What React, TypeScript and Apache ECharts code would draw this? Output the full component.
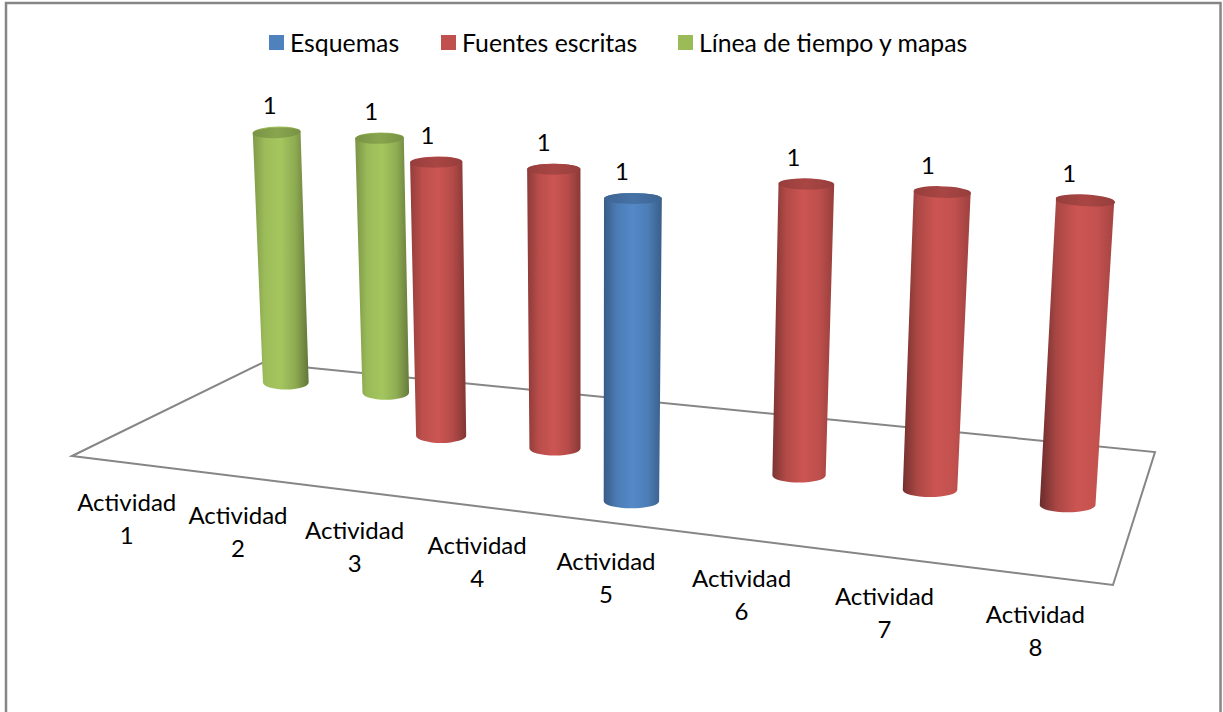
import React, { useEffect, useRef } from "react";
import * as echarts from "echarts";

const categories = ["Actividad\n1", "Actividad\n2", "Actividad\n3", "Actividad\n4", "Actividad\n5", "Actividad\n6", "Actividad\n7", "Actividad\n8"];
const esquemas = [null, null, null, null, 1, null, null, null];
const fuentes = [null, null, 1, 1, null, 1, 1, 1];
const lineaTiempo = [1, 1, null, null, null, null, null, null];

const FONT = "Lato, Carlito, sans-serif";
const W = 1223;
const H = 712;

// Floor plane corners on screen: front-left, front-right, back-right, back-left
const floor = [[72, 456], [1113, 585], [1155, 452], [262, 363]];

function homography(p: number[][]) {
  const [[x0, y0], [x1, y1], [x2, y2], [x3, y3]] = p;
  const dx1 = x1 - x2, dx2 = x3 - x2, sx = x0 - x1 + x2 - x3;
  const dy1 = y1 - y2, dy2 = y3 - y2, sy = y0 - y1 + y2 - y3;
  const den = dx1 * dy2 - dx2 * dy1;
  const g = (sx * dy2 - dx2 * sy) / den;
  const h = (dx1 * sy - sx * dy1) / den;
  const a = x1 - x0 + g * x1, b = x3 - x0 + h * x3;
  const d = y1 - y0 + g * y1, e = y3 - y0 + h * y3;
  return (u: number, v: number) => {
    const w = g * u + h * v + 1;
    return [(a * u + b * v + x0) / w, (d * u + e * v + y0) / w];
  };
}
const project = homography(floor);

function shade(hex: string, k: number) {
  const n = parseInt(hex.slice(1), 16);
  const f = (c: number) => Math.max(0, Math.min(255, Math.round(c * k)));
  return `rgb(${f((n >> 16) & 255)},${f((n >> 8) & 255)},${f(n & 255)})`;
}

function cylinderRenderer(color: string, depth: number) {
  return (params: any, api: any) => {
    const cat = api.value(0);
    const val = api.value(1);
    const p0 = api.coord([cat, 0]);
    const p1 = api.coord([cat, val]);
    const pFull = api.coord([cat, 1]);
    const u = p0[0] / W;
    const frac = (p0[1] - p1[1]) / (p0[1] - pFull[1]);
    const base = project(u, depth);
    const bx = base[0] + 3;
    const by = base[1] + 1;
    const hgt = (0.445 * by + 79.7) * frac;
    const tx = bx + (hgt * (bx - 590)) / 8300;
    const ty = by - hgt;
    const rb = hgt * 0.0915;
    const rt = hgt * 0.0955;
    const rybot = 7;
    const rytop = 5.5;
    const tilt = (bx - 590) * 0.003;
    const rot = (Math.atan2(tilt, rt) * 180) / Math.PI;
    const tl = [tx - rt, ty - tilt];
    const tr = [tx + rt, ty + tilt];
    const bl = [bx - rb, by];
    const br = [bx + rb, by];
    const body = `M${tl[0]} ${tl[1]} L${bl[0]} ${bl[1]} A${rb} ${rybot} 0 0 0 ${br[0]} ${br[1]} L${tr[0]} ${tr[1]} A${rt} ${rytop} ${rot} 0 0 ${tl[0]} ${tl[1]} Z`;
    const cap = `M${tl[0]} ${tl[1]} A${rt} ${rytop} ${rot} 0 1 ${tr[0]} ${tr[1]} A${rt} ${rytop} ${rot} 0 1 ${tl[0]} ${tl[1]} Z`;
    const pos = bx / W;
    const left = 0.92 - 0.42 * pos;
    const right = 0.55 + 0.35 * pos;
    const mix = (a: number) => 0.5 * a + 0.5;
    const grad = new echarts.graphic.LinearGradient(0, 0, 1, 0, [
      { offset: 0, color: shade(color, left) },
      { offset: 0.22, color: shade(color, mix(left) + 0.1) },
      { offset: 0.5, color: shade(color, 1.06) },
      { offset: 0.76, color: shade(color, mix(right) + 0.1) },
      { offset: 1, color: shade(color, right) },
    ]);
    const capGrad = new echarts.graphic.LinearGradient(0, 0, 1, 0, [
      { offset: 0, color: shade(color, 0.78) },
      { offset: 0.5, color: shade(color, 0.88) },
      { offset: 1, color: shade(color, 0.78) },
    ]);
    return {
      type: "group",
      children: [
        { type: "path", shape: { pathData: body }, style: { fill: grad } },
        { type: "path", shape: { pathData: cap }, style: { fill: capGrad } },
        {
          type: "text",
          style: {
            x: tx - 4 - 0.011 * tx,
            y: ty - 28,
            text: String(val),
            fill: "#000",
            font: `24px ${FONT}`,
            align: "center",
            verticalAlign: "middle",
          },
        },
      ],
    };
  };
}

function toPoints(values: (number | null)[]) {
  return values.map((v, i) => (v == null ? null : [i, v])).filter(Boolean);
}

function renderFloor() {
  return {
    type: "polygon",
    shape: { points: floor },
    style: { fill: "none", stroke: "#868686", lineWidth: 2 },
  };
}

function renderLabel(params: any, api: any) {
  const cat = api.value(0);
  const p = api.coord([cat, 0]);
  const [x, y] = project(p[0] / W, 0);
  return {
    type: "text",
    style: {
      x: x + 1,
      y: y + 55,
      text: categories[cat],
      fill: "#000",
      font: `24px ${FONT}`,
      lineHeight: 33,
      align: "center",
      verticalAlign: "middle",
    },
  };
}

export default function App() {
  const ref = useRef<HTMLDivElement>(null);
  useEffect(() => {
    document.body.style.margin = "0";
    const chart = echarts.init(ref.current!, undefined, { renderer: "svg" });
    const legendText = { fontFamily: FONT, fontSize: 24.8, color: "#000", padding: [0, 0, 0, 1] };
    const legendBase = { top: 30, icon: "rect", itemWidth: 15, itemHeight: 15, selectedMode: false, textStyle: legendText, padding: 0 };
    chart.setOption({
      animation: false,
      backgroundColor: "#fff",
      grid: { left: 0, right: 0, top: 0, bottom: 0 },
      xAxis: { type: "category", data: categories, show: false },
      yAxis: { type: "value", min: 0, max: 1, show: false },
      legend: [
        { ...legendBase, left: 269, data: ["Esquemas"] },
        { ...legendBase, left: 441, data: ["Fuentes escritas"] },
        { ...legendBase, left: 678, data: ["Línea de tiempo y mapas"] },
      ],
      graphic: [
        {
          type: "polyline",
          shape: { points: [[6, 720], [6, 3], [1220.5, 3], [1220.5, 720]] },
          style: { fill: "none", stroke: "#868686", lineWidth: 2.5 },
          silent: true,
        },
      ],
      series: [
        { name: "floor", type: "custom", coordinateSystem: "cartesian2d", renderItem: renderFloor, data: [[0, 0]], z: 1, silent: true },
        { name: "Línea de tiempo y mapas", type: "custom", renderItem: cylinderRenderer("#9BBB59", 5 / 6), data: toPoints(lineaTiempo), itemStyle: { color: "#9BBB59" }, encode: { x: 0, y: 1 }, z: 3 },
        { name: "Fuentes escritas", type: "custom", renderItem: cylinderRenderer("#C0504D", 0.5), data: toPoints(fuentes), itemStyle: { color: "#C0504D" }, encode: { x: 0, y: 1 }, z: 4 },
        { name: "Esquemas", type: "custom", renderItem: cylinderRenderer("#4F81BD", 1 / 6), data: toPoints(esquemas), itemStyle: { color: "#4F81BD" }, encode: { x: 0, y: 1 }, z: 5 },
        { name: "labels", type: "custom", renderItem: renderLabel, data: categories.map((_, i) => [i, 0]), encode: { x: 0, y: 1 }, z: 6, silent: true },
      ],
    });
    return () => chart.dispose();
  }, []);
  return <div ref={ref} style={{ width: W, height: H }} />;
}
